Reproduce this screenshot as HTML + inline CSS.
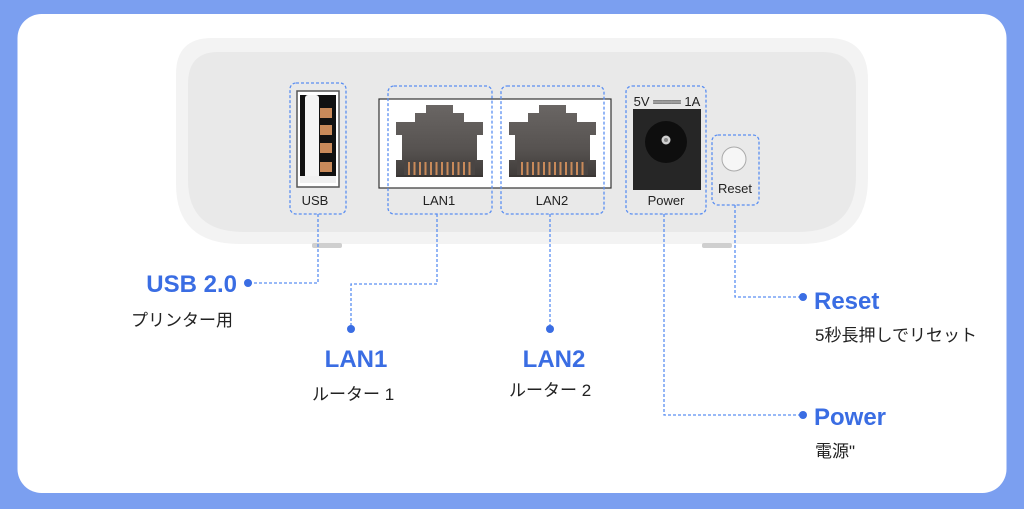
<!DOCTYPE html>
<html><head><meta charset="utf-8"><style>
html,body{margin:0;padding:0;background:#7b9ff0;}
svg{display:block;}
text{font-family:"Liberation Sans","Noto Sans CJK JP",sans-serif;}
</style></head><body>
<svg width="1024" height="509" viewBox="0 0 1024 509" xmlns="http://www.w3.org/2000/svg">
<defs>
<linearGradient id="rj" x1="0" y1="0" x2="0" y2="1">
<stop offset="0" stop-color="#6a6664"/><stop offset="0.6" stop-color="#575351"/><stop offset="1" stop-color="#3f3b39"/>
</linearGradient>
<g id="rj45">
<path d="M30 0 H57 V8 H68 V17 H87 V30 H81 V55 H87 V72 H0 V55 H6 V30 H0 V17 H19 V8 H30 Z" fill="url(#rj)"/>
<rect x="8" y="55" width="71" height="15" fill="#4a4543"/>
<g fill="#c98a5a">
<rect x="12" y="57" width="2" height="13"/><rect x="17.5" y="57" width="2" height="13"/><rect x="23" y="57" width="2" height="13"/><rect x="28.5" y="57" width="2" height="13"/><rect x="34" y="57" width="2" height="13"/><rect x="39.5" y="57" width="2" height="13"/><rect x="45" y="57" width="2" height="13"/><rect x="50.5" y="57" width="2" height="13"/><rect x="56" y="57" width="2" height="13"/><rect x="61.5" y="57" width="2" height="13"/><rect x="67" y="57" width="2" height="13"/><rect x="72.5" y="57" width="2" height="13"/>
</g>
<rect x="0" y="70" width="87" height="2" fill="#3a3634"/>
</g>
</defs>
<rect x="0" y="0" width="1024" height="509" fill="#7b9ff0"/>
<rect x="17.5" y="14" width="989" height="479" rx="24" fill="#ffffff"/>

<!-- device body -->
<path d="M212 38 H828 Q868 38 868 80 V178 Q868 244 800 244 H240 Q176 244 176 184 V74 Q176 38 212 38 Z" fill="#f3f3f3"/>
<path d="M218 52 H822 Q856 52 856 86 V176 Q856 232 798 232 H244 Q188 232 188 180 V84 Q188 52 218 52 Z" fill="#e9e9e9"/>
<!-- feet -->
<rect x="312" y="243" width="30" height="5" rx="2" fill="#cfcfcf"/>
<rect x="702" y="243" width="30" height="5" rx="2" fill="#cfcfcf"/>

<!-- USB port -->
<rect x="297" y="91" width="42" height="96" fill="#ffffff" stroke="#555" stroke-width="1.5"/>
<rect x="300" y="95" width="36" height="88" fill="#111"/>
<rect x="305" y="95" width="14" height="88" rx="3" fill="#f4f4f4"/>
<g fill="#c98a5a">
<rect x="320" y="108" width="12" height="10"/><rect x="320" y="125" width="12" height="10"/><rect x="320" y="143" width="12" height="10"/><rect x="320" y="162" width="12" height="10"/>
</g>
<rect x="300" y="176" width="36" height="7" fill="#f0f0f0"/>
<text x="315" y="205" font-size="13" text-anchor="middle" fill="#222">USB</text>

<!-- LAN block -->
<rect x="379" y="99" width="232" height="89" fill="#ffffff" stroke="#333" stroke-width="1.2"/>
<use href="#rj45" x="396" y="105"/>
<use href="#rj45" x="509" y="105"/>
<text x="439" y="205" font-size="13" text-anchor="middle" fill="#222">LAN1</text>
<text x="552" y="205" font-size="13" text-anchor="middle" fill="#222">LAN2</text>

<!-- Power jack -->
<text x="667" y="106" font-size="13" text-anchor="middle" fill="#222">5V <tspan font-weight="bold">═══</tspan> 1A</text>
<rect x="633" y="109" width="68" height="81" fill="#262626"/>
<circle cx="666" cy="142" r="21" fill="#0e0e0e"/>
<circle cx="666" cy="140" r="4.5" fill="#cfcfcf"/>
<circle cx="666" cy="140" r="2" fill="#888"/>
<text x="666" y="205" font-size="13" text-anchor="middle" fill="#222">Power</text>

<!-- Reset button -->
<circle cx="734" cy="159" r="12" fill="#f6f6f6" stroke="#aaa" stroke-width="1"/>
<text x="735" y="193" font-size="13" text-anchor="middle" fill="#222">Reset</text>

<!-- dashed boxes -->
<g fill="none" stroke="#5b8ff2" stroke-width="1.3" stroke-dasharray="3 2">
<rect x="290" y="83" width="56" height="131" rx="6"/>
<rect x="388" y="86" width="104" height="128" rx="6"/>
<rect x="501" y="86" width="103" height="128" rx="6"/>
<rect x="626" y="86" width="80" height="128" rx="6"/>
<rect x="712" y="135" width="47" height="70" rx="6"/>
<!-- connectors -->
<path d="M318 214 V283 H250"/>
<path d="M437 214 V284 H351 V327"/>
<path d="M550 214 V327"/>
<path d="M735 205 V297 H800"/>
<path d="M664 214 V415 H800"/>
</g>
<g fill="#3a6de3">
<circle cx="248" cy="283" r="4"/>
<circle cx="351" cy="329" r="4"/>
<circle cx="550" cy="329" r="4"/>
<circle cx="803" cy="297" r="4"/>
<circle cx="803" cy="415" r="4"/>
</g>

<!-- labels -->
<g font-weight="bold" font-size="24" fill="#3a6de3">
<text x="237" y="292" text-anchor="end">USB 2.0</text>
<text x="356" y="367" text-anchor="middle">LAN1</text>
<text x="554" y="367" text-anchor="middle">LAN2</text>
<text x="814" y="309">Reset</text>
<text x="814" y="425">Power</text>
</g>
<g font-size="17" fill="#222">
<text x="131" y="326">プリンター用</text>
<text x="312" y="400">ルーター 1</text>
<text x="509" y="396">ルーター 2</text>
<text x="815" y="341">5秒長押しでリセット</text>
<text x="815" y="457">電源"</text>
</g>
</svg>
</body></html>
